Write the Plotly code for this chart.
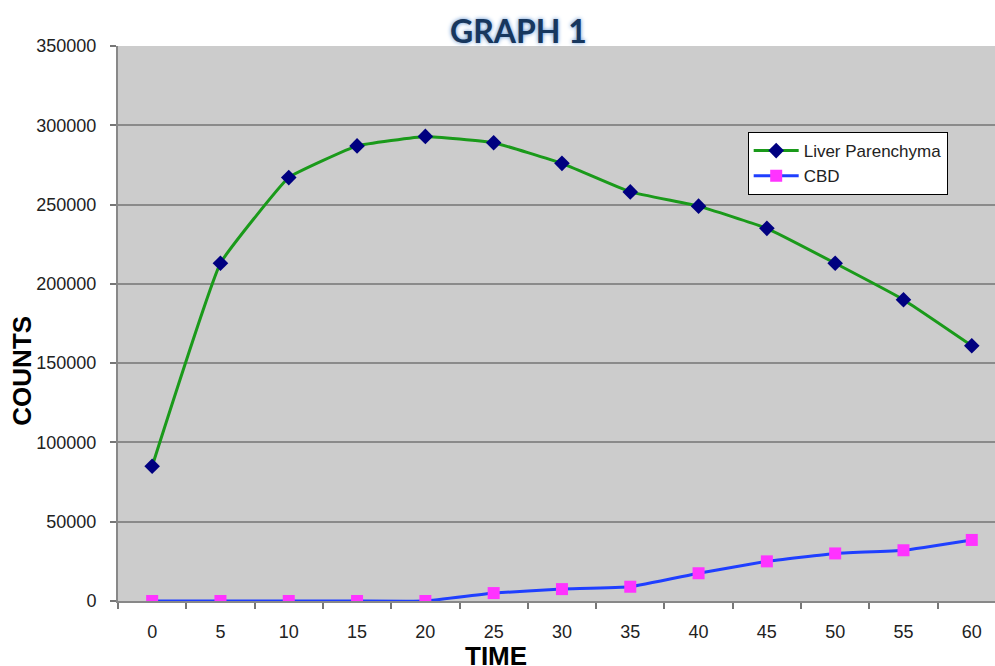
import plotly.graph_objects as go

time = [0, 5, 10, 15, 20, 25, 30, 35, 40, 45, 50, 55, 60]
liver = [85000, 213000, 267000, 287000, 293000, 289000, 276000, 258000, 249000, 235000, 213000, 190000, 161000]
cbd = [0, 0, 0, 0, 0, 5000, 7500, 9000, 17500, 25000, 30000, 32000, 38500]
y_ticks = [0, 50000, 100000, 150000, 200000, 250000, 300000, 350000]
boundaries = [t - 2.5 for t in time] + [time[-1] + 2.5]

fig = go.Figure()
fig.add_trace(go.Scatter(
    x=time, y=liver, name="Liver Parenchyma", mode="lines+markers",
    line=dict(color="#1a9a1a", width=3, shape="spline", smoothing=0.3),
    marker=dict(symbol="diamond", color="#000080", size=12),
))
fig.add_trace(go.Scatter(
    x=time, y=cbd, name="CBD", mode="lines+markers",
    line=dict(color="#1f3fff", width=3, shape="spline", smoothing=0.3),
    marker=dict(symbol="square", color="#ff33ff", size=12),
))

# black emphasised gridline at 150000
fig.add_shape(type="line", xref="paper", x0=0, x1=1, yref="y", y0=y_ticks[3], y1=y_ticks[3],
              line=dict(color="black", width=1.3), layer="below")

fig.update_layout(
    width=995, height=666,
    margin=dict(l=118, r=0, t=46, b=65),
    paper_bgcolor="white", plot_bgcolor="#cccccc",
    font=dict(family="Liberation Sans, Arial, sans-serif", size=18, color="#222"),
    showlegend=True,
    legend=dict(x=0.718, y=0.845, xanchor="left", yanchor="top",
                bgcolor="white", bordercolor="black", borderwidth=1,
                font=dict(size=17, color="#222"), tracegroupgap=0, itemwidth=45),
    annotations=[
        dict(text="<b>GRAPH 1</b>", xref="paper", yref="paper", x=0.457, y=1.0, yshift=16,
             xanchor="center", yanchor="middle", showarrow=False,
             font=dict(family="Lato, Open Sans, sans-serif", size=32, color="#17375e",
                       shadow="0px 0px 4px #5b8fd0")),
        dict(text="<b>COUNTS</b>", xref="paper", yref="paper", x=0, xshift=-96, y=0.415,
             xanchor="center", yanchor="middle", textangle=-90, showarrow=False,
             font=dict(family="Liberation Sans, Arial, sans-serif", size=26, color="black")),
        dict(text="<b>TIME</b>", xref="paper", yref="paper", x=0.431, y=0, yshift=-55,
             xanchor="center", yanchor="middle", showarrow=False,
             font=dict(family="Liberation Sans, Arial, sans-serif", size=26, color="black")),
    ],
)

fig.update_xaxes(
    range=[-2.5, 61.7], tickvals=time, ticktext=[str(t) for t in time],
    ticks="", showgrid=False, zeroline=False,
    showline=True, linecolor="#888", linewidth=2,
    ticklabelstandoff=13,
    minor=dict(tickvals=boundaries, ticks="outside", ticklen=6, tickcolor="#777", tickwidth=1.5, showgrid=False),
)
fig.update_yaxes(
    range=[0, 350000], tickvals=y_ticks, ticktext=[str(v) for v in y_ticks],
    ticks="outside", ticklen=6, tickcolor="#777", tickwidth=1.5,
    showgrid=True, gridcolor="#8a8a8a", gridwidth=1.5, zeroline=False,
    showline=True, linecolor="#888", linewidth=2,
    ticklabelstandoff=10,
)

fig.write_html("out.html", config={"displayModeBar": False},
               post_script="document.body.style.margin='0px';document.body.style.overflow='hidden';")
